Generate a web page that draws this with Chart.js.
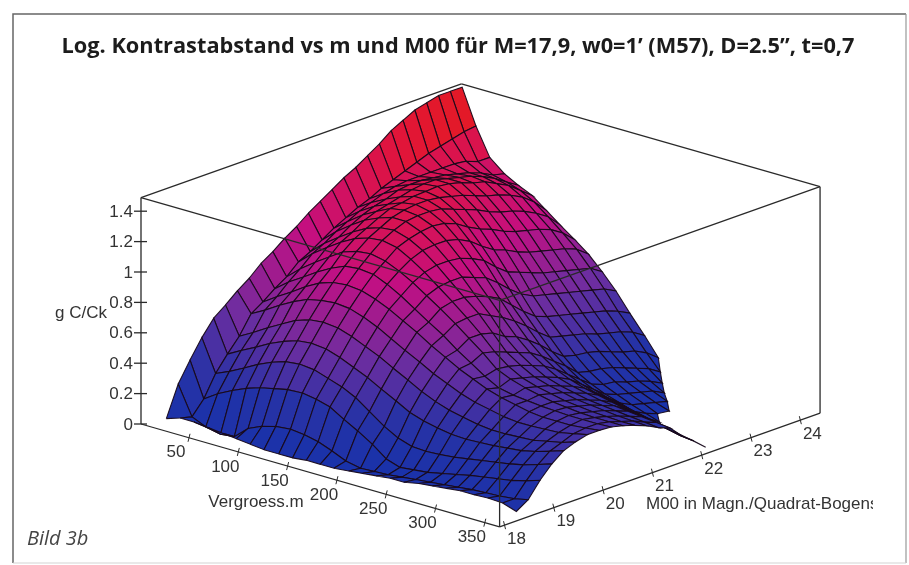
<!DOCTYPE html>
<html>
<head>
<meta charset="utf-8">
<style>
html, body { margin: 0; background: #fff; }
canvas { display: block; }
</style>
</head>
<body>
<canvas id="surface" width="909" height="565"></canvas>
<script src="https://cdn.jsdelivr.net/npm/chart.js@4/dist/chart.umd.min.js"></script>
<script>
const m_values = [7, 21, 35, 50, 64, 78, 92, 106, 121, 135, 149, 163, 177, 192, 206, 220, 234, 248, 263, 277, 291, 305, 319, 333, 348, 362];
const m00_values = [18.3, 18.54, 18.78, 19.02, 19.26, 19.5, 19.74, 19.98, 20.22, 20.46, 20.7, 20.94, 21.18, 21.42, 21.66, 21.9, 22.14, 22.38, 22.62, 22.86, 23.1, 23.34, 23.58, 23.82, 24.06, 24.3];

// log contrast, one list per M00 value (short lists = surface stops there)
const row00 = [0, .03, .03, .02, .01, 0, -.01, -.02, -.02, -.02, -.01, -.01, -.01, 0, .01, .02, .03, .03, .05, .06, .07, .08, .08, .085, .08, .05];
const row01 = [.20, .01, -.03, -.05, -.04, .04, .08, .105, .115, .105, .085, .05, .01, -.01, -.005, 0, .01, .02, .03, .04, .05, .06, .065, .07, .08, .10];
const row02 = [.33, .10, .16, .21, .25, .28, .30, .32, .325, .31, .285, .23, .18, .12, .05, .02, .03, .04, .06, .08, .10, .115, .13, .145, .17, .20];
const row03 = [.45, .24, .28, .33, .38, .42, .45, .46, .45, .42, .39, .345, .28, .21, .16, .13, .125, .13, .14, .155, .17, .185, .20, .22, .25, .28];
const row04 = [.55, .34, .39, .44, .49, .53, .56, .57, .56, .53, .49, .45, .40, .35, .30, .27, .25, .235, .23, .235, .24, .25, .26, .28, .31, .34];
const row05 = [.61, .43, .48, .54, .59, .64, .67, .68, .67, .64, .60, .56, .51, .46, .41, .37, .34, .32, .30, .29, .29, .295, .30, .32, .34, .37];
const row06 = [.675, .55, .60, .66, .71, .75, .77, .78, .77, .74, .70, .65, .60, .55, .50, .46, .42, .39, .37, .35, .34, .34, .345, .35, .37, .39];
const row07 = [.73, .60, .66, .72, .78, .83, .86, .87, .86, .83, .79, .74, .69, .63, .58, .53, .49, .45, .42, .40, .38, .37, .37, .37, .38, .39];
const row08 = [.80, .66, .73, .79, .85, .90, .94, .95, .94, .90, .85, .79, .73, .67, .60, .54, .48, .43, .41, .40, .39, .385, .38, .38, .38, .385];
const row09 = [.85, .71, .79, .86, .92, .98, 1.01, 1.02, 1.00, .96, .91, .85, .79, .72, .65, .58, .50, .46, .43, .41, .39, .38, .37, .365, .365, .365];
const row10 = [.91, .78, .86, .93, .99, 1.04, 1.07, 1.08, 1.06, 1.01, .95, .88, .81, .73, .65, .56, .49, .44, .41, .39, .37, .36, .35, .345, .34, .34];
const row11 = [.96, .82, .90, .97, 1.03, 1.08, 1.11, 1.12, 1.09, 1.04, .97, .89, .81, .73, .63, .53, .47, .42, .39, .37, .35, .34, .33, .32, .315, .31];
const row12 = [1.02, .87, .95, 1.02, 1.08, 1.12, 1.15, 1.15, 1.11, 1.05, .97, .89, .79, .69, .58, .50, .44, .39, .36, .34, .32, .31, .30, .29, .28, .27];
const row13 = [1.07, .92, .99, 1.06, 1.11, 1.155, 1.17, 1.16, 1.12, 1.05, .96, .86, .76, .65, .55, .47, .41, .36, .33, .31, .29, .28, .27, .26, .25, .24];
const row14 = [1.12, .96, 1.03, 1.09, 1.13, 1.165, 1.18, 1.16, 1.11, 1.03, .93, .83, .72, .60, .50, .42, .36, .32, .29, .27, .25, .23, .21, .20, .18, .16];
const row15 = [1.17, 1.00, 1.06, 1.11, 1.15, 1.18, 1.18, 1.15, 1.08, .99, .89, .77, .65, .54, .44, .36, .30, .26, .23, .21, .19, .17, .15, .13, .11, .10];
const row16 = [1.21, 1.03, 1.09, 1.14, 1.17, 1.185, 1.17, 1.12, 1.03, .93, .82, .70, .58, .47, .37, .30, .24, .20, .17, .15, .13, .11, .09, .07, .05, .03];
const row17 = [1.26, 1.07, 1.11, 1.15, 1.18, 1.19, 1.15, 1.09, .99, .88, .76, .64, .52, .41, .31, .23, .18, .14, .11, .08, .06, .04, .02];
const row18 = [1.31, 1.10, 1.12, 1.15, 1.18, 1.18, 1.13, 1.06, .96, .85, .73, .60, .49, .39, .29, .21, .15, .11, .07, .04, .01];
const row19 = [1.37, 1.13, 1.12, 1.14, 1.16, 1.16, 1.10, 1.02, .92, .81, .70, .58, .47, .37, .28, .20, .14, .09, .05, .01];
const row20 = [1.41, 1.16, 1.12, 1.13, 1.14, 1.13, 1.07, .99, .89, .78, .67, .56, .45, .35, .26, .18, .11, .07, .03, 0];
const row21 = [1.45, 1.19, 1.12, 1.11, 1.12, 1.11, 1.05, .97, .87, .76, .65, .54, .43, .32, .23, .15, .09, .05, .01];
const row22 = [1.47, 1.21, 1.12, 1.09, 1.09, 1.07, 1.02, .94, .85, .74, .63, .52, .41, .30, .20, .12, .06, .01];
const row23 = [1.49, 1.23, 1.11, 1.06, 1.05, 1.03, .98, .90, .82, .72, .61, .50, .39, .28, .18, .09, .02];
const row24 = [1.49, 1.25, 1.08, 1.02, 1.00, .97, .92, .85, .77, .69, .59, .48, .36, .25, .14, .04];
const row25 = [1.49, 1.26, 1.08, 1.00, .95, .91, .84, .77, .70, .63, .54, .44, .32, .20, .08];
const rows = [row00, row01, row02, row03, row04, row05, row06, row07, row08, row09, row10, row11, row12,
    row13, row14, row15, row16, row17, row18, row19, row20, row21, row22, row23, row24, row25];

const z_ticks = [0, 0.2, 0.4, 0.6, 0.8, 1, 1.2, 1.4];
const m_ticks = [50, 100, 150, 200, 250, 300, 350];
const m00_ticks = [18, 19, 20, 21, 22, 23, 24];

const m_min = 1.3, m_max = 365;
const m00_min = 17.9, m00_max = 24.4;
const z_max = 1.49;

const title = 'Log. Kontrastabstand vs m und M00 für M=17,9, w0=1’ (M57), D=2.5”, t=0,7';

// the view of the box, everything else goes through the chart's x/y scales
function project(m, m00, z) {
    return {
        x: 141 + (m - m_min) * 0.986 + (m00 - m00_min) * 49.3,
        y: 424 + (m - m_min) * 0.283 - (m00 - m00_min) * 17.5 - z * 152,
    };
}

const colour_stops = [
    [0, 25, 50, 170], [0.25, 40, 50, 165], [0.55, 110, 45, 160],
    [0.9, 195, 15, 130], [1.25, 225, 20, 60], [1.5, 230, 30, 20],
];

function z_colour(z) {
    for (let k = 1; k < colour_stops.length; k++) {
        const a = colour_stops[k - 1], b = colour_stops[k];
        if (z <= b[0]) {
            const f = Math.max(0, (z - a[0]) / (b[0] - a[0]));
            return `rgb(${a[1] + f * (b[1] - a[1])}, ${a[2] + f * (b[2] - a[2])}, ${a[3] + f * (b[3] - a[3])})`;
        }
    }
    return 'rgb(230, 30, 20)';
}

function line_set(points, colour, width) {
    return { data: points, showLine: true, pointRadius: 0, borderColor: colour, borderWidth: width, clip: false };
}

const ink = '#2a2a2a';

function box_line(a, b) {
    return line_set([project(...a), project(...b)], ink, 1.3);
}

// back edges first, surface next, front edges and axes on top
const back_edges = [
    box_line([m_min, m00_min, z_max], [m_min, m00_max, z_max]),
    box_line([m_min, m00_max, z_max], [m_max, m00_max, z_max]),
];

const cells = [];
for (let i = 0; i < m_values.length - 1; i++) {
    for (let j = m00_values.length - 2; j >= 0; j--) {
        // rows stop at different m, so cells on that border are triangles
        const corners = [[i, j], [i + 1, j], [i + 1, j + 1], [i, j + 1]].filter(c => rows[c[1]][c[0]] !== undefined);
        if (corners.length < 3) continue;
        const pts = corners.map(c => project(m_values[c[0]], m00_values[c[1]], rows[c[1]][c[0]]));
        pts.push(pts[0]);
        const mean = corners.reduce((s, c) => s + rows[c[1]][c[0]], 0) / corners.length;
        const cell = line_set(pts, 'rgba(24, 10, 26, 0.95)', 1.1);
        cell.cellFill = z_colour(mean);
        cells.push(cell);
    }
}

const front_edges = [
    box_line([m_min, m00_min, z_max], [m_max, m00_min, z_max]),
    box_line([m_max, m00_min, z_max], [m_max, m00_max, z_max]),
    box_line([m_max, m00_min, z_max], [m_max, m00_min, 0]),
    box_line([m_max, m00_max, z_max], [m_max, m00_max, 0]),
    box_line([m_min, m00_min, z_max], [m_min, m00_min, 0]),
    box_line([m_min, m00_min, 0], [m_max, m00_min, 0]),
    box_line([m_max, m00_min, 0], [m_max, m00_max, 0]),
];

const tick_marks = [];
z_ticks.forEach(z => {
    const p = project(m_min, m00_min, z);
    tick_marks.push(line_set([{ x: p.x - 7, y: p.y }, { x: p.x + 6, y: p.y }], ink, 1.3));
});
m_ticks.forEach(m => {
    const p = project(m, m00_min, 0);
    tick_marks.push(line_set([{ x: p.x + 1, y: p.y - 4 }, { x: p.x - 1, y: p.y + 4 }], ink, 1));
});
m00_ticks.forEach(v => {
    const p = project(m_max, v, 0);
    tick_marks.push(line_set([{ x: p.x - 1, y: p.y - 4 }, { x: p.x + 1, y: p.y + 4 }], ink, 1));
});

const frame = [
    line_set([{ x: 13, y: 563 }, { x: 13, y: 14 }, { x: 906, y: 14 }], '#666', 1.5),
    line_set([{ x: 906, y: 14 }, { x: 906, y: 563 }], '#999', 1.2),
    line_set([{ x: 13, y: 563 }, { x: 906, y: 563 }], '#d4d4d4', 1.2),
];

// chart.js paints the first dataset last
const datasets = [...frame, ...back_edges, ...cells, ...front_edges, ...tick_marks].reverse();

const cell_fill = {
    id: 'cell_fill',
    beforeDatasetDraw(chart, args) {
        const ds = chart.data.datasets[args.index];
        if (!ds.cellFill) return;
        const ctx = chart.ctx;
        const pts = args.meta.data;
        ctx.save();
        ctx.beginPath();
        pts.forEach((p, k) => k ? ctx.lineTo(p.x, p.y) : ctx.moveTo(p.x, p.y));
        ctx.closePath();
        ctx.fillStyle = ds.cellFill;
        ctx.fill();
        ctx.restore();
    },
};

const labels = {
    id: 'labels',
    afterDraw(chart) {
        const ctx = chart.ctx, sx = chart.scales.x, sy = chart.scales.y;
        const put = (text, p, dx, dy) => ctx.fillText(text, sx.getPixelForValue(p.x) + dx, sy.getPixelForValue(p.y) + dy);
        ctx.save();
        ctx.textBaseline = 'middle';

        ctx.fillStyle = '#1c1c1c';
        ctx.textAlign = 'center';
        ctx.font = 'bold 22px "Open Sans"';
        ctx.fillText(title, 458, 47, 793);

        ctx.fillStyle = '#333';
        ctx.font = '17px "Liberation Sans"';
        ctx.textAlign = 'right';
        z_ticks.forEach(z => put(String(z), project(m_min, m00_min, z), -8, 1));
        ctx.textAlign = 'center';
        m_ticks.forEach(m => put(String(m), project(m, m00_min, 0), -13, 15));
        m00_ticks.forEach(v => put(String(v), project(m_max, v, 0), 12, 14));
        ctx.fillText('Vergroess.m', 256, 502);
        ctx.textAlign = 'left';
        ctx.fillText('g C/Ck', 55, 313);

        ctx.save();
        ctx.beginPath();
        ctx.rect(640, 490, 233, 30);
        ctx.clip();
        ctx.fillText('M00 in Magn./Quadrat-Bogensek', 646, 504);
        ctx.restore();

        ctx.fillStyle = '#444';
        ctx.font = 'italic 20px "Open Sans"';
        ctx.fillText('Bild 3b', 27, 539);
        ctx.restore();
    },
};

new Chart(document.getElementById('surface'), {
    type: 'scatter',
    data: { datasets: datasets },
    options: {
        responsive: false,
        animation: false,
        events: [],
        layout: { padding: 0 },
        elements: { line: { tension: 0 } },
        plugins: { legend: { display: false }, tooltip: { enabled: false } },
        scales: {
            x: { type: 'linear', min: 0, max: 909, display: false },
            y: { type: 'linear', min: 0, max: 565, reverse: true, display: false },
        },
    },
    plugins: [cell_fill, labels],
});
</script>
</body>
</html>
